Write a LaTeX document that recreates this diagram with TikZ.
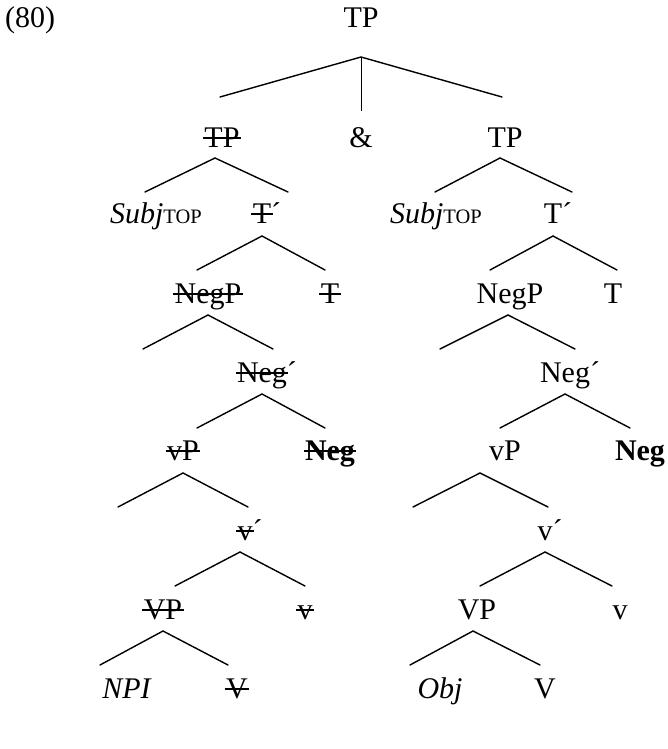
\documentclass[tikz,border=0pt]{standalone}
\usepackage{fontspec}
\setmainfont{Liberation Serif}
\newsavebox\strkbox
\newcommand\strk[1]{\leavevmode\sbox\strkbox{#1}%
  \rlap{\kern-1.5pt\rule[0.27em]{\dimexpr\wd\strkbox+3pt\relax}{1.6pt}}\usebox\strkbox}
\newcommand\mytri[6]{%
  \coordinate (#1a) at (#2,#3);
  \coordinate (#1l) at (#4,#6);
  \coordinate (#1r) at (#5,#6);
  \draw[br] (#1l) -- (#1a) -- (#1r);}
\newcommand\subtop{{\fontsize{20.5}{21}\selectfont TOP}}
\tikzset{
  lbl/.style={anchor=base, inner sep=0pt, font=\fontsize{30}{35}\selectfont},
  br/.style={line width=1.4pt, line cap=round},
}
\begin{document}
\begin{tikzpicture}[x=1pt,y=-1pt]
\useasboundingbox (0,0) rectangle (667,749);
% row 0
\node[lbl, anchor=base west] (ex) at (5,28) {(80)};
\node[lbl] (tp) at (361,28) {TP};
% row 1
\node[lbl] (tpl) at (222,147) {\strk{TP}};
\node[lbl] (amp) at (361,147) {\&};
\node[lbl] (tpr) at (505,147) {TP};
\coordinate (ta) at (361,57);
\coordinate (tl) at (220,97);
\coordinate (tr) at (502,97);
\coordinate (tv) at (361,111);
\draw[br] (tl) -- (ta) -- (tr);
\draw[line width=0.9pt] (ta) -- (tv);
% row 2
\node[lbl] (subjl) at (156,223) {\textit{Subj}\subtop};
\node[lbl] (tbl) at (267,223) {\strk{T}´};
\node[lbl] (subjr) at (436,223) {\textit{Subj}\subtop};
\node[lbl] (tbr) at (558,223) {T´};
\mytri{A}{215}{158}{145}{288}{192}
\mytri{B}{500}{158}{435}{572}{192}
% row 3
\node[lbl] (negpl) at (208,303) {\strk{NegP}};
\node[lbl] (tl3) at (330,303) {\strk{T}};
\node[lbl] (negpr) at (510,303) {NegP};
\node[lbl] (tr3) at (613,303) {T};
\mytri{C}{262}{236}{197}{325}{270}
\mytri{D}{553}{236}{490}{617}{270}
% row 4
\node[lbl] (negbl) at (267,382) {\strk{Neg}´};
\node[lbl] (negbr) at (570,382) {Neg´};
\mytri{E}{208}{315}{143}{273}{349}
\mytri{F}{508}{315}{440}{575}{349}
% row 5
\node[lbl] (vpl) at (183,460) {\strk{vP}};
\node[lbl] (negl) at (330,460) {\strk{\textbf{Neg}}};
\node[lbl] (vpr) at (505,460) {vP};
\node[lbl] (negr) at (640,460) {\textbf{Neg}};
\mytri{G}{262}{394}{197}{325}{428}
\mytri{H}{565}{394}{500}{630}{428}
% row 6
\node[lbl] (vbl) at (250,540) {\strk{v}´};
\node[lbl] (vbr) at (550,540) {v´};
\mytri{I}{183}{473}{118}{248}{507}
\mytri{J}{480}{473}{413}{548}{507}
% row 7
\node[lbl] (vpl7) at (163,619) {\strk{VP}};
\node[lbl] (vl7) at (305,619) {\strk{v}};
\node[lbl] (vpr7) at (477,619) {VP};
\node[lbl] (vr7) at (620,619) {v};
\mytri{K}{240}{552}{175}{305}{586}
\mytri{L}{545}{552}{480}{612}{586}
% row 8
\node[lbl] (npi) at (127,698) {\textit{NPI}};
\node[lbl] (vl8) at (237,698) {\strk{V}};
\node[lbl] (obj) at (440,698) {\textit{Obj}};
\node[lbl] (vr8) at (545,698) {V};
\mytri{M}{163}{631}{100}{228}{665}
\mytri{N}{473}{631}{410}{540}{665}
\end{tikzpicture}
\end{document}
